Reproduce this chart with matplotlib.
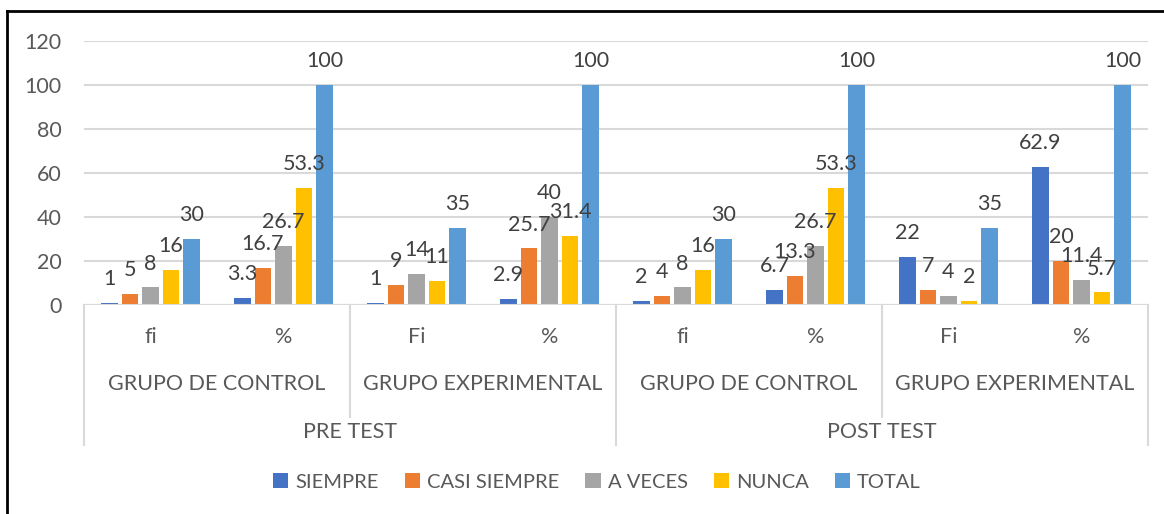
import matplotlib.pyplot as plt
from matplotlib.transforms import blended_transform_factory
from matplotlib.lines import Line2D

# datos del grafico (8 grupos, 5 series)
series = ['SIEMPRE', 'CASI SIEMPRE', 'A VECES', 'NUNCA', 'TOTAL']
colores = ['#4472C4', '#ED7D31', '#A5A5A5', '#FFC000', '#5B9BD5']
nivel1 = ['fi', '%', 'Fi', '%', 'fi', '%', 'Fi', '%']
nivel2 = ['GRUPO DE CONTROL', 'GRUPO EXPERIMENTAL', 'GRUPO DE CONTROL', 'GRUPO EXPERIMENTAL']
nivel3 = ['PRE TEST', 'POST TEST']

siempre = [1, 3.3, 1, 2.9, 2, 6.7, 22, 62.9]
casi_siempre = [5, 16.7, 9, 25.7, 4, 13.3, 7, 20]
a_veces = [8, 26.7, 14, 40, 8, 26.7, 4, 11.4]
nunca = [16, 53.3, 11, 31.4, 16, 53.3, 2, 5.7]
total = [30, 100, 35, 100, 30, 100, 35, 100]
valores = [siempre, casi_siempre, a_veces, nunca, total]

plt.rcParams['font.family'] = ['Lato', 'DejaVu Sans']
gris_txt = '#595959'
gris_lin = '#D9D9D9'
fs = 15.5

fig = plt.figure(figsize=(11.64, 5.14), dpi=100)
ax = fig.add_axes([84 / 1164, 209 / 514, 1064 / 1164, 264 / 514])

ancho = 0.124
paso = 0.154
for i, (nom, vals, col) in enumerate(zip(series, valores, colores)):
    xs = [g + 0.5 + (i - 2) * paso for g in range(len(vals))]
    barras = ax.bar(xs, vals, width=ancho, color=col, label=nom, zorder=3)
    ax.bar_label(barras, labels=[f'{v:g}' for v in vals], padding=10,
                 fontsize=fs, color='#404040', zorder=5)

ax.set_xlim(0, 8)
ax.set_ylim(0, 120)
ax.set_yticks(range(0, 121, 20))
ax.tick_params(axis='y', length=0, labelsize=fs, labelcolor=gris_txt, pad=16)
ax.set_xticks([])
ax.grid(axis='y', color=gris_lin, linewidth=1.5, zorder=0)
for s in ax.spines.values():
    s.set_visible(False)
ax.axhline(0, color=gris_lin, linewidth=1.5, zorder=4)

# eje de categorias multinivel
tr = blended_transform_factory(ax.transData, ax.transAxes)
for k, t in enumerate(nivel1):
    ax.text(k + 0.5, -0.121, t, transform=tr, ha='center', va='center',
            fontsize=fs, color=gris_txt)
for k, t in enumerate(nivel2):
    ax.text(2 * k + 1, -0.299, t, transform=tr, ha='center', va='center',
            fontsize=fs, color=gris_txt)
for k, t in enumerate(nivel3):
    ax.text(4 * k + 2, -0.481, t, transform=tr, ha='center', va='center',
            fontsize=fs, color=gris_txt)
for x in [2, 6]:
    ax.add_line(Line2D([x, x], [0, -0.424], transform=tr, color=gris_lin,
                       linewidth=1.5, clip_on=False))
for x in [0, 4, 8]:
    ax.add_line(Line2D([x, x], [0, -0.53], transform=tr, color=gris_lin,
                       linewidth=1.5, clip_on=False))

fig.legend(loc='center', bbox_to_anchor=(597 / 1164, 32 / 514), ncol=5,
           frameon=False, fontsize=14.5, labelcolor=gris_txt,
           handlelength=0.75, handleheight=0.75, handletextpad=0.35,
           columnspacing=1.3)

# marco del grafico (solo arriba e izquierda visibles)
fig.add_artist(Line2D([7 / 1164, 7 / 1164], [0, 503 / 514], color='black',
                      linewidth=2, transform=fig.transFigure))
fig.add_artist(Line2D([7 / 1164, 1], [503 / 514, 503 / 514], color='black',
                      linewidth=2, transform=fig.transFigure))

fig.savefig('out.png', dpi=100)
